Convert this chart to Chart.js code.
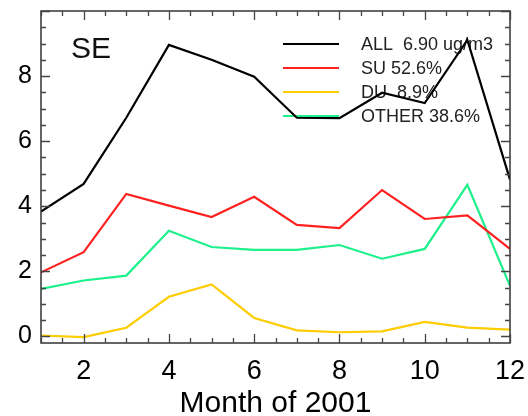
<!DOCTYPE html>
<html>
<head>
<meta charset="utf-8">
<script src="https://cdn.jsdelivr.net/npm/chart.js@4.4.0/dist/chart.umd.min.js"></script>
<style>
  html, body { margin: 0; padding: 0; background: #fff; }
  #wrap { width: 528px; height: 416px; }
</style>
</head>
<body>
<div id="wrap"><canvas id="chart" width="528" height="416"></canvas></div>
<script>
// Monthly values (ug/m3)
const months = [1, 2, 3, 4, 5, 6, 7, 8, 9, 10, 11, 12];
const allValues = [3.84, 4.69, 6.72, 8.96, 8.50, 7.98, 6.72, 6.71, 7.49, 7.17, 9.11, 4.82];
const suValues = [1.97, 2.59, 4.38, 4.02, 3.67, 4.29, 3.43, 3.33, 4.50, 3.61, 3.72, 2.69];
const duValues = [0.03, -0.02, 0.27, 1.22, 1.60, 0.57, 0.19, 0.13, 0.16, 0.45, 0.27, 0.21];
const otherValues = [1.46, 1.72, 1.87, 3.25, 2.75, 2.66, 2.66, 2.81, 2.39, 2.69, 4.66, 1.56];

const seriesLabels = ['ALL  6.90 ug/m3', 'SU 52.6%', 'DU  8.9%', 'OTHER 38.6%'];
const seriesColors = ['#000000', '#ff2020', '#ffcc00', '#1ef08c'];
const regionName = 'SE';
const xTitle = 'Month of 2001';

const FONT = '"Liberation Sans", Arial, sans-serif';

function toPoints(values) {
    return months.map((m, i) => ({ x: m, y: values[i] }));
}

function isHalfStep(v) {
    return Math.abs(v * 2 - Math.round(v * 2)) < 1e-6;
}

// Frame with inward ticks on all four sides
const framePlugin = {
    id: 'frame',
    afterDatasetsDraw(chart) {
        const ctx = chart.ctx;
        const area = chart.chartArea;
        const xs = chart.scales.x;
        const ys = chart.scales.y;
        ctx.save();
        ctx.strokeStyle = '#333';
        ctx.lineWidth = 1.5;
        ctx.strokeRect(area.left, area.top, area.right - area.left, area.bottom - area.top);

        ctx.strokeStyle = '#444';
        ctx.lineWidth = 1.3;
        ctx.beginPath();
        xs.ticks.forEach(t => {
            if (!isHalfStep(t.value)) return;
            const len = t.value % 2 === 0 ? 9 : 5;
            const px = Math.round(xs.getPixelForValue(t.value)) + 0.5;
            ctx.moveTo(px, area.bottom);
            ctx.lineTo(px, area.bottom - len);
            ctx.moveTo(px, area.top);
            ctx.lineTo(px, area.top + len);
        });
        ys.ticks.forEach(t => {
            if (!isHalfStep(t.value)) return;
            const len = t.value % 2 === 0 ? 9 : 5;
            const py = Math.round(ys.getPixelForValue(t.value)) + 0.5;
            ctx.moveTo(area.left, py);
            ctx.lineTo(area.left + len, py);
            ctx.moveTo(area.right, py);
            ctx.lineTo(area.right - len, py);
        });
        ctx.stroke();
        ctx.restore();
    }
};

// Region name and legend drawn inside the plot
const labelPlugin = {
    id: 'labels',
    beforeDatasetsDraw(chart) {
        const ctx = chart.ctx;
        ctx.save();
        ctx.fillStyle = '#111';
        ctx.font = '30px ' + FONT;
        ctx.textBaseline = 'middle';
        ctx.fillText(regionName, 71, 50);

        ctx.font = '18px ' + FONT;
        chart.data.datasets.forEach((ds, i) => {
            const y = 44 + i * 24;
            ctx.strokeStyle = ds.borderColor;
            ctx.lineWidth = 2.2;
            ctx.beginPath();
            ctx.moveTo(283, y);
            ctx.lineTo(339, y);
            ctx.stroke();
            ctx.fillStyle = '#222';
            ctx.fillText(ds.label, 361, y + 1);
        });
        ctx.restore();
    }
};

const datasets = [allValues, suValues, duValues, otherValues].map((vals, i) => ({
    label: seriesLabels[i],
    data: toPoints(vals),
    borderColor: seriesColors[i],
    backgroundColor: seriesColors[i],
    borderWidth: 2.2,
    pointRadius: 0,
    tension: 0,
    fill: false
}));

new Chart(document.getElementById('chart').getContext('2d'), {
    type: 'line',
    data: { datasets: datasets },
    options: {
        responsive: false,
        animation: false,
        layout: { padding: { top: 11, right: 18, left: 0, bottom: 0 } },
        plugins: {
            legend: { display: false },
            tooltip: { enabled: false }
        },
        scales: {
            x: {
                type: 'linear',
                min: 1,
                max: 12,
                grid: { display: false, drawTicks: false },
                border: { display: false },
                ticks: {
                    stepSize: 0.5,
                    autoSkip: false,
                    maxRotation: 0,
                    padding: 12,
                    color: '#000',
                    font: { family: FONT, size: 27 },
                    callback: v => (v % 2 === 0 ? String(v) : '')
                },
                title: {
                    display: true,
                    text: xTitle,
                    color: '#000',
                    font: { family: FONT, size: 30, lineHeight: 0.8 },
                    padding: 0
                },
                afterFit: s => {
                    s.height = 73;
                    s.paddingLeft = 0;
                    s.paddingRight = 0;
                }
            },
            y: {
                min: -0.2,
                max: 10,
                grid: { display: false, drawTicks: false },
                border: { display: false },
                ticks: {
                    stepSize: 0.5,
                    includeBounds: false,
                    autoSkip: false,
                    padding: 9,
                    color: '#000',
                    font: { family: FONT, size: 25 },
                    callback: v => (v % 2 === 0 && v < 10 ? String(v) : '')
                },
                afterFit: s => {
                    s.width = 41;
                    s.paddingTop = 0;
                    s.paddingBottom = 0;
                }
            }
        }
    },
    plugins: [labelPlugin, framePlugin]
});
</script>
</body>
</html>
